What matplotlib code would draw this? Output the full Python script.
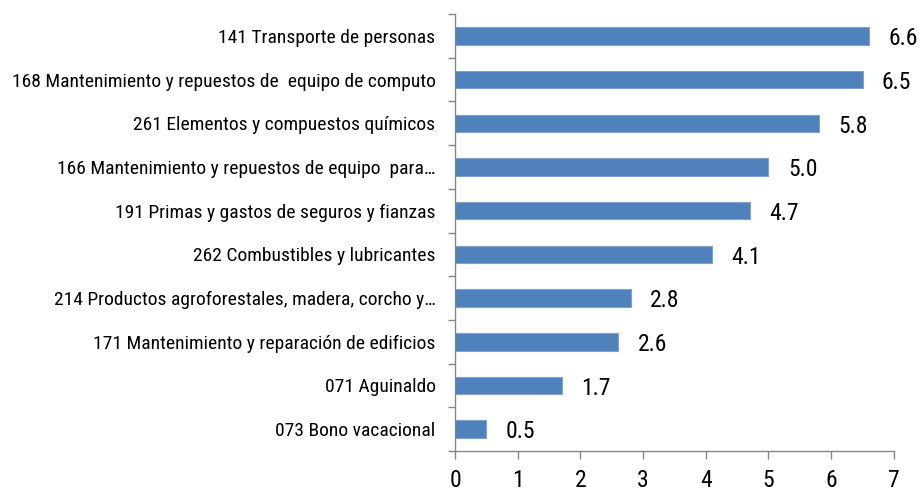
import matplotlib
matplotlib.use("Agg")
import matplotlib.pyplot as plt
import numpy as np

# Data, top to bottom as shown
categories = [
    "141 Transporte de personas",
    "168 Mantenimiento y repuestos de  equipo de computo",
    "261 Elementos y compuestos químicos",
    "166 Mantenimiento y repuestos de equipo  para…",
    "191 Primas y gastos de seguros y fianzas",
    "262 Combustibles y lubricantes",
    "214 Productos agroforestales, madera, corcho y…",
    "171 Mantenimiento y reparación de edificios",
    "071 Aguinaldo",
    "073 Bono vacacional",
]
values = [6.6, 6.5, 5.8, 5.0, 4.7, 4.1, 2.8, 2.6, 1.7, 0.5]
x_ticks = [0, 1, 2, 3, 4, 5, 6, 7]

plt.rcParams["font.family"] = ["Roboto Condensed", "Liberation Sans", "DejaVu Sans"]

grey = "#868686"
fig = plt.figure(figsize=(9.2, 4.94), dpi=100)
ax = fig.add_axes([0.4946, 0.087, 0.477, 0.8846])

n = len(categories)
ypos = np.arange(n)[::-1]
ax.barh(ypos, values, height=0.4, color="#4F81BD", edgecolor="#7FA3D0", linewidth=0.8)

for y, v in zip(ypos, values):
    ax.annotate(f"{v:.1f}", (v, y), xytext=(14, -2), textcoords="offset points",
                va="center", ha="left", fontsize=17, color="black")

ax.set_xlim(0, 7)
ax.set_ylim(-0.5, n - 0.5)
ax.set_xticks(x_ticks)
ax.set_xticklabels([str(t) for t in x_ticks], fontsize=17)

# labels at category centres, tick marks at boundaries
ax.set_yticks(ypos)
ax.set_yticklabels(categories, fontsize=14)
ax.tick_params(axis="y", which="major", length=0, pad=14)
ax.set_yticks(np.arange(-0.5, n, 1.0), minor=True)
ax.tick_params(axis="y", which="minor", length=5, color=grey, width=1)
ax.tick_params(axis="x", length=6, color=grey, width=1, pad=7)

for side in ("top", "right"):
    ax.spines[side].set_visible(False)
for side in ("left", "bottom"):
    ax.spines[side].set_color(grey)
    ax.spines[side].set_linewidth(1)

fig.savefig("out.png", dpi=100)
